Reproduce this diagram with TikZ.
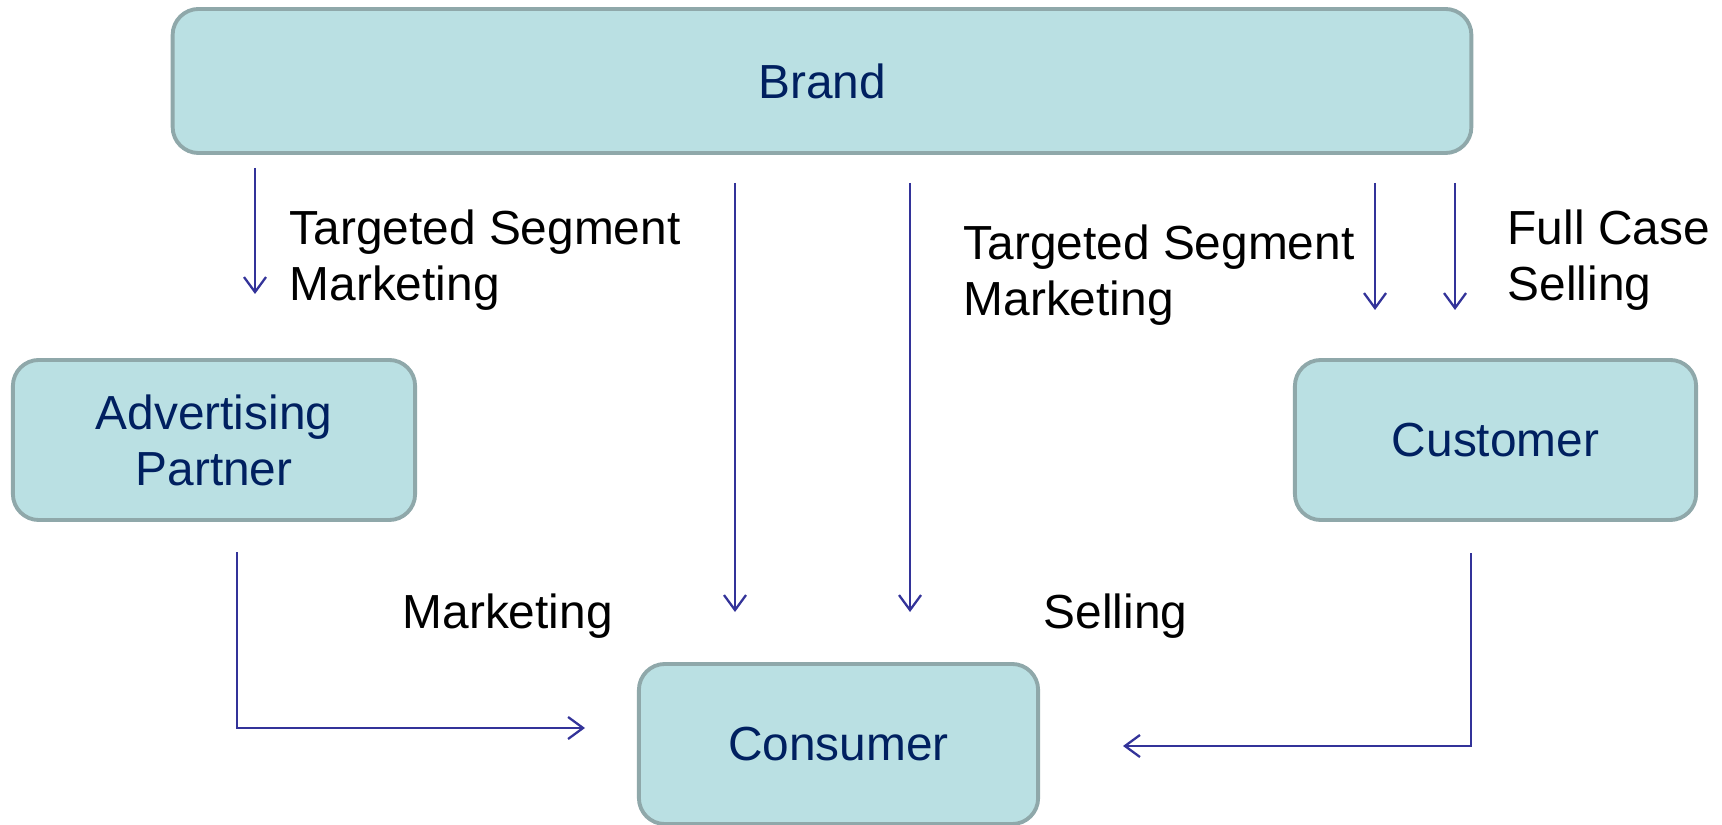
\documentclass[tikz,border=0pt]{standalone}
\usepackage{fontspec}
\setmainfont{Liberation Sans}
\usetikzlibrary{arrows.meta}
\definecolor{boxfill}{RGB}{186,224,227}
\definecolor{boxline}{RGB}{143,168,170}
\definecolor{boxtext}{RGB}{0,32,96}
\definecolor{flowline}{RGB}{51,51,153}
\tikzstyle{party} = [rectangle,
			rounded corners = 0.26cm,
			draw = boxline,
			line width = 1.1pt,
			fill = boxfill,
			text = boxtext,
			align = center,
			font = \fontsize{13.6}{15.9}\selectfont]
\tikzstyle{txt} = [anchor = west,
			inner sep = 0pt,
			align = left,
			font = \fontsize{13.6}{15.9}\selectfont]
\tikzstyle{flow} = [draw = flowline,
			line width = 0.65pt,
			-{Straight Barb[length=0.15cm,width=0.22cm]}]

\begin{document}
\begin{tikzpicture}[x=0.01cm, y=-0.01cm]
	\useasboundingbox (0,0) rectangle (1722,825);
	% boxes
	\node [party, minimum width=12.98cm, minimum height=1.44cm] (brand) at (822,81) {Brand};
	\node [party, minimum width=4.02cm, minimum height=1.6cm] (adpartner) at (214,440) {Advertising\\Partner};
	\node [party, minimum width=4.01cm, minimum height=1.6cm] (customer) at (1495.5,440) {Customer};
	\node [party, minimum width=3.99cm, minimum height=1.6cm] (consumer) at (838.5,744) {Consumer};
	% arrow ends
	\coordinate (tsm-a) at (255,168);   \coordinate (tsm-b) at (255,294);
	\coordinate (mkt-a) at (735,183);   \coordinate (mkt-b) at (735,612);
	\coordinate (sel-a) at (910,183);   \coordinate (sel-b) at (910,612);
	\coordinate (tsc-a) at (1375,183);  \coordinate (tsc-b) at (1375,310);
	\coordinate (fcs-a) at (1455,183);  \coordinate (fcs-b) at (1455,310);
	\coordinate (adv-a) at (237,552);   \coordinate (adv-b) at (585,728);
	\coordinate (cus-a) at (1471,553);  \coordinate (cus-b) at (1123,746);
	\draw [flow] (tsm-a) -- (tsm-b);
	\draw [flow] (mkt-a) -- (mkt-b);
	\draw [flow] (sel-a) -- (sel-b);
	\draw [flow] (tsc-a) -- (tsc-b);
	\draw [flow] (fcs-a) -- (fcs-b);
	\draw [flow] (adv-a) |- (adv-b);
	\draw [flow] (cus-a) |- (cus-b);
	% labels
	\node [txt] (tsm-left) at (289,260) {Targeted Segment\\Marketing};
	\node [txt] (tsm-right) at (963,275) {Targeted Segment\\Marketing};
	\node [txt] (fullcase) at (1507,260) {Full Case\\Selling};
	\node [txt] (marketing) at (402,616) {Marketing};
	\node [txt] (selling) at (1043,616) {Selling};
\end{tikzpicture}
\end{document}
